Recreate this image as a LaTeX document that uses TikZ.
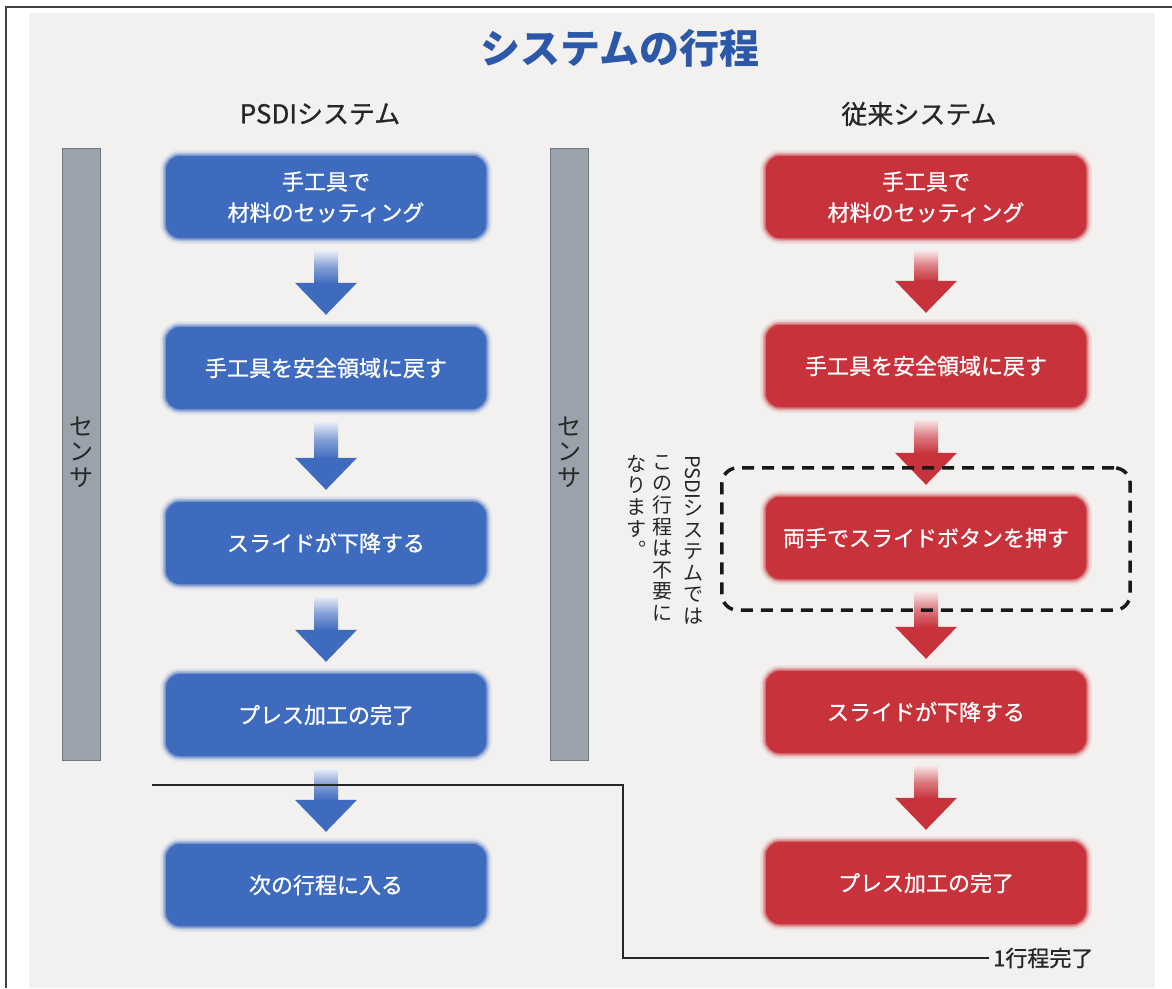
\documentclass[tikz,border=0pt]{standalone}
\usepackage{fontspec}
\usepackage{graphicx}
\setmainfont{Noto Sans CJK JP}
\newfontfamily\jpmed[FakeBold=0.9]{Noto Sans CJK JP}
\usetikzlibrary{calc,fit}

\definecolor{bg}{HTML}{F2F1EF}
\definecolor{pblue}{HTML}{3F6BBF}
\definecolor{pred}{HTML}{C8323A}
\definecolor{tblue}{HTML}{2B58A8}
\definecolor{sgray}{HTML}{9AA3AC}
\definecolor{sedge}{HTML}{6F787F}
\definecolor{ink}{HTML}{262626}

\tikzset{
  stepbox/.style={rounded corners=14pt, minimum width=320pt, minimum height=82pt,
    inner sep=0pt, align=center, text=white,
    font=\jpmed\fontsize{22}{31}\selectfont,
    preaction={draw=#1, line width=12pt, opacity=0.07},
    preaction={draw=#1, line width=9pt, opacity=0.12},
    preaction={draw=#1, line width=6pt, opacity=0.25},
    preaction={draw=#1, line width=3pt, opacity=0.5},
    fill=#1},
  sensorbar/.style={draw=sedge, line width=1pt, fill=sgray, minimum width=38pt,
    minimum height=612pt, inner sep=0pt},
  sensortext/.style={align=center, inner sep=0pt, text=ink,
    font=\fontsize{24}{25.5}\selectfont},
  vtext/.style={align=center, inner sep=0pt, anchor=north, text=ink,
    font=\fontsize{20}{21.6}\selectfont},
  header/.style={inner sep=0pt, text=ink, font=\jpmed\fontsize{26}{26}\selectfont},
  dashframe/.style={draw=black!90, line width=3.5pt, dash pattern=on 12pt off 8pt,
    rounded corners=16pt, inner sep=0pt},
  link/.style={draw=black!85, line width=1.8pt}
}

% block arrow from node #1 down to node #2 in colour #3
\newcommand{\flowarrow}[3]{%
  \coordinate (tip) at ($(#2.north)+(0,-12)$);
  \shade[top color=#3!10, bottom color=#3, middle color=#3!65]
    ($(#1.south)+(-12,12)$) rectangle ($(tip)+(12,-31)$);
  \fill[#3] ($(tip)+(-31,-32)$) -- ($(tip)+(31,-32)$) -- (tip) -- cycle;
}

\begin{document}
\begin{tikzpicture}[x=1pt,y=-1pt]
\useasboundingbox (0,0) rectangle (1172,988);
\fill[white] (0,0) rectangle (1172,988);
\fill[bg] (29,13) rectangle (1155,988);
\draw[line width=2pt, black!75] (6,988) -- (6,7) -- (1172,7);

% title and headers
\node[inner sep=0pt, text=tblue, font=\fontsize{40}{40}\selectfont\bfseries] (title) at (620,48) {システムの行程};
\node[header] (h1) at (320,114) {PSDIシステム};
\node[header] (h2) at (919,114) {従来システム};

% sensor bars
\node[sensorbar] (s1) at (81,454) {};
\node[sensorbar] (s2) at (569,454) {};
\node[sensortext] (s1t) at (81,452) {セ\\ン\\サ};
\node[sensortext] (s2t) at (569,452) {セ\\ン\\サ};

% PSDI column
\node[stepbox=pblue] (b1) at (326,197) {手工具で\\材料のセッティング};
\node[stepbox=pblue] (b2) at (326,368) {手工具を安全領域に戻す};
\node[stepbox=pblue] (b3) at (326,543) {スライドが下降する};
\node[stepbox=pblue] (b4) at (326,715) {プレス加工の完了};
\node[stepbox=pblue] (b5) at (326,885) {次の行程に入る};

% conventional column
\node[stepbox=pred] (r1) at (926,197) {手工具で\\材料のセッティング};
\node[stepbox=pred] (r2) at (926,366) {手工具を安全領域に戻す};
\node[stepbox=pred] (r3) at (926,538) {両手でスライドボタンを押す};
\node[stepbox=pred] (r4) at (926,712) {スライドが下降する};
\node[stepbox=pred] (r5) at (926,883) {プレス加工の完了};

\flowarrow{b1}{b2}{pblue}
\flowarrow{b2}{b3}{pblue}
\flowarrow{b3}{b4}{pblue}
\flowarrow{b4}{b5}{pblue}
\flowarrow{r1}{r2}{pred}
\flowarrow{r2}{r3}{pred}
\flowarrow{r3}{r4}{pred}
\flowarrow{r4}{r5}{pred}

% dashed frame around the step not needed with PSDI
\node[dashframe, fit=(r3), inner xsep=44pt, inner ysep=30pt, yshift=-1pt] (skip) {};

% vertical note
\node[vtext] (v1) at (693,455) {\rotatebox[origin=c]{-90}{PSDI}\\シ\\ス\\テ\\ム\\で\\は};
\node[vtext] (v2) at (662,455) {こ\\の\\行\\程\\は\\不\\要\\に};
\node[vtext] (v3) at (636,455) {な\\り\\ま\\す\\︒};

% one-cycle line
\coordinate (lstart) at (152,785);
\coordinate (lbend1) at (623,785);
\coordinate (lbend2) at (623,958);
\node[inner sep=0pt, anchor=west, text=ink, font=\jpmed\fontsize{22}{22}\selectfont] (done) at (993,958) {1行程完了};
\draw[link] (lstart) -- (lbend1) -- (lbend2) -- ($(done.west)+(-4,0)$);
\end{tikzpicture}
\end{document}
